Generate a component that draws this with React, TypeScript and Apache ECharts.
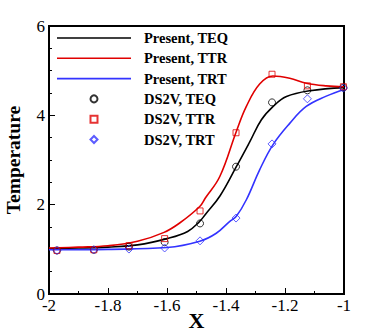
import React, { useEffect, useRef } from "react";
import * as echarts from "echarts";

const lineTEQ: [number, number][] = [
  [-2, 1.02], [-1.9, 1.03], [-1.8, 1.05], [-1.7, 1.1], [-1.6, 1.24], [-1.53, 1.4],
  [-1.49, 1.62], [-1.47, 1.78], [-1.42, 2.2], [-1.365, 2.85], [-1.32, 3.4],
  [-1.28, 3.9], [-1.24, 4.2], [-1.195, 4.42], [-1.116, 4.55], [-1.0, 4.62],
];
const lineTTR: [number, number][] = [
  [-2, 1.03], [-1.9, 1.05], [-1.8, 1.08], [-1.7, 1.18], [-1.61, 1.38], [-1.557, 1.59],
  [-1.489, 1.96], [-1.47, 2.15], [-1.421, 2.63], [-1.365, 3.64], [-1.331, 4.2],
  [-1.286, 4.7], [-1.241, 4.88], [-1.184, 4.83], [-1.128, 4.72], [-1.06, 4.66], [-1.0, 4.64],
];
const lineTRT: [number, number][] = [
  [-2, 0.99], [-1.8, 1.0], [-1.6, 1.04], [-1.489, 1.18], [-1.433, 1.36], [-1.388, 1.62],
  [-1.365, 1.74], [-1.331, 2.11], [-1.286, 2.78], [-1.241, 3.34], [-1.184, 3.82],
  [-1.128, 4.2], [-1.06, 4.43], [-1.0, 4.58],
];
const dsX = [-1.973, -1.848, -1.729, -1.608, -1.488, -1.366, -1.244, -1.124, -1.002];
const dsTEQ = [0.975, 0.99, 1.06, 1.16, 1.58, 2.85, 4.29, 4.56, 4.62];
const dsTTR = [0.975, 0.99, 1.08, 1.24, 1.86, 3.61, 4.92, 4.66, 4.64];
const dsTRT = [0.975, 0.99, 1.006, 1.03, 1.19, 1.7, 3.36, 4.37, 4.61];

const BLACK = "#000000";
const RED = "#e00000";
const BLUE = "#3333ff";
const FONT = "'Liberation Serif', 'Times New Roman', serif";

const LINE_ICON = "path://M0,0H74V1.6H0Z";
const SQUARE_ICON = "path://M0,0H10V10H0Z";
const DIAMOND_ICON = "path://M5,0L10,5L5,10L0,5Z";

export default function App() {
  const ref = useRef<HTMLDivElement>(null);
  useEffect(() => {
    if (!ref.current) return;
    const chart = echarts.init(ref.current, undefined, { renderer: "svg" });
    const lineS = (name: string, data: [number, number][], color: string) => ({
      name,
      type: "line",
      data,
      symbol: "none",
      smooth: 0.4,
      lineStyle: { color, width: 1.6 },
      itemStyle: { color },
      z: 2,
    });
    const scatS = (name: string, ys: number[], color: string, symbol: string, size: number) => ({
      name,
      type: "scatter",
      data: dsX.map((x, i) => [x, ys[i]]),
      symbol,
      symbolSize: size,
      itemStyle: { color: "rgba(0,0,0,0)", borderColor: color, borderWidth: 1 },
      z: 3,
    });
    chart.setOption({
      animation: false,
      grid: {
        left: 49,
        right: 30,
        top: 26,
        bottom: 38,
        outerBoundsMode: "none",
        containLabel: false,
        show: true,
        borderColor: "#000",
        borderWidth: 2,
        backgroundColor: "transparent",
      },
      legend: {
        orient: "vertical",
        left: 52,
        top: 25.5,
        padding: 5,
        itemWidth: 74,
        itemHeight: 7,
        itemGap: 5.3,
        symbolKeepAspect: true,
        textStyle: {
          fontFamily: FONT,
          fontWeight: "bold",
          fontSize: 14.5,
          color: "#000",
          padding: [0, 0, 0, 8],
        },
        data: [
          { name: "Present, TEQ", icon: LINE_ICON },
          { name: "Present, TTR", icon: LINE_ICON },
          { name: "Present, TRT", icon: LINE_ICON },
          { name: "DS2V, TEQ", icon: "circle" },
          { name: "DS2V, TTR", icon: SQUARE_ICON },
          { name: "DS2V, TRT", icon: DIAMOND_ICON },
        ],
      },
      xAxis: {
        type: "value",
        min: -2,
        max: -1,
        interval: 0.2,
        name: "X",
        nameLocation: "middle",
        nameGap: 15,
        nameMoveOverlap: false,
        nameTextStyle: { fontFamily: FONT, fontWeight: "bold", fontSize: 22, color: "#000" },
        axisLine: { show: true, lineStyle: { color: "#000", width: 2 } },
        axisTick: { show: true, inside: true, length: 6, lineStyle: { color: "#000", width: 1 } },
        minorTick: { show: true, splitNumber: 2, length: 3, lineStyle: { color: "#000", width: 1 } },
        splitLine: { show: false },
        axisLabel: {
          fontFamily: FONT,
          fontSize: 17,
          color: "#000",
          margin: 3,
          formatter: (v: number) => String(Math.round(v * 10) / 10),
        },
      },
      yAxis: {
        type: "value",
        min: 0,
        max: 6,
        interval: 2,
        name: "Temperature",
        nameLocation: "middle",
        nameGap: 26,
        nameRotate: 90,
        nameMoveOverlap: false,
        nameTextStyle: { fontFamily: FONT, fontWeight: "bold", fontSize: 19.5, color: "#000" },
        axisLine: { show: true, lineStyle: { color: "#000", width: 2 } },
        axisTick: { show: true, inside: true, length: 6, lineStyle: { color: "#000", width: 1 } },
        minorTick: { show: true, splitNumber: 4, length: 3, lineStyle: { color: "#000", width: 1 } },
        splitLine: { show: false },
        axisLabel: { fontFamily: FONT, fontSize: 17, color: "#000", margin: 4 },
      },
      series: [
        lineS("Present, TEQ", lineTEQ, BLACK),
        lineS("Present, TTR", lineTTR, RED),
        lineS("Present, TRT", lineTRT, BLUE),
        scatS("DS2V, TEQ", dsTEQ, BLACK, "circle", 7),
        scatS("DS2V, TTR", dsTTR, RED, "rect", 6),
        scatS("DS2V, TRT", dsTRT, BLUE, "diamond", 8),
      ],
    });
    return () => chart.dispose();
  }, []);
  return <div ref={ref} style={{ width: 374, height: 332, position: "absolute", left: 0, top: 0 }} />;
}
